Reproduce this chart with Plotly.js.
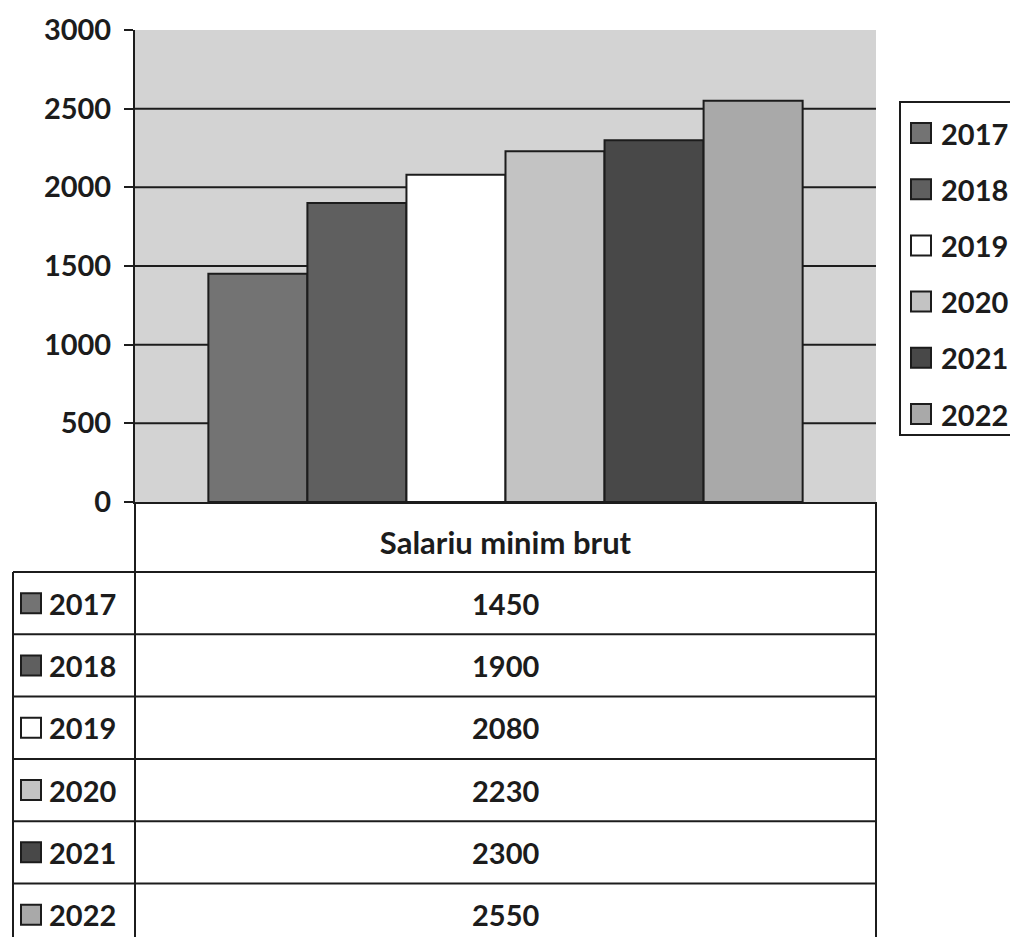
<!DOCTYPE html>
<html>
<head>
<meta charset="utf-8">
<script src="https://cdn.plot.ly/plotly-3.0.1.min.js"></script>
<style>html,body{margin:0;padding:0;background:#fff;}#chart{width:1010px;height:937px;}</style>
</head>
<body>
<div id="chart"></div>
<script>
// ---- data ----
const years = ['2017', '2018', '2019', '2020', '2021', '2022'];
const values = [1450, 1900, 2080, 2230, 2300, 2550];
const category = 'Salariu minim brut';
const colors = ['#737373', '#5f5f5f', '#ffffff', '#c3c3c3', '#484848', '#a9a9a9'];
const yTicks = [0, 500, 1000, 1500, 2000, 2500, 3000];

// ---- geometry helpers (pixel -> paper) ----
const W = 1010, H = 937;
const L = 135, R = 876, T = 30, B = 502;
const px = x => (x - L) / (R - L);
const py = y => (B - y) / (B - T);
const ink = '#1c1c1c';
const FONT = 'Lato, "Open Sans", sans-serif';

const traces = years.map((yr, i) => ({
  type: 'bar',
  x: [category],
  y: [values[i]],
  name: yr,
  marker: {color: colors[i], line: {color: ink, width: 2}},
  showlegend: false,
  hoverinfo: 'none'
}));

const shapes = [];
const annotations = [];

// gridlines (not at top edge)
yTicks.filter(v => v > 0 && v < yTicks[yTicks.length - 1]).forEach(v => {
  shapes.push({type: 'line', xref: 'x domain', yref: 'y', x0: 0, x1: 1, y0: v, y1: v,
    line: {color: ink, width: 2}, layer: 'below'});
});

// data table
const headerBottom = 572, rowH = 62.3, tableLeft = 13;
function hline(y, x0, x1) {
  shapes.push({type: 'line', xref: 'paper', yref: 'paper', x0: px(x0), x1: px(x1), y0: py(y), y1: py(y),
    line: {color: ink, width: 2}});
}
function vline(x, y0, y1) {
  shapes.push({type: 'line', xref: 'paper', yref: 'paper', x0: px(x), x1: px(x), y0: py(y0), y1: py(y1),
    line: {color: ink, width: 2}});
}
vline(L, B, H + 5);
vline(R, B, H + 5);
vline(tableLeft, headerBottom, H + 5);
hline(headerBottom, tableLeft, R);
years.forEach((yr, i) => {
  const top = headerBottom + i * rowH;
  const bot = top + rowH;
  const cy = (top + bot) / 2;
  if (bot < H) hline(bot, tableLeft, R);
  // key square
  shapes.push({type: 'rect', xref: 'paper', yref: 'paper',
    x0: px(21), x1: px(41), y0: py(cy - 10), y1: py(cy + 10),
    fillcolor: colors[i], line: {color: ink, width: 2}});
  annotations.push({xref: 'paper', yref: 'paper', x: px(47), y: py(cy), xanchor: 'left', yanchor: 'middle',
    text: yr, showarrow: false, font: {family: FONT, size: 29, weight: 'bold', color: ink}});
  annotations.push({xref: 'paper', yref: 'paper', x: px((L + R) / 2), y: py(cy), xanchor: 'center', yanchor: 'middle',
    text: String(values[i]), showarrow: false, font: {family: FONT, size: 29, weight: 'bold', color: ink}});
});

// legend (right)
shapes.push({type: 'rect', xref: 'paper', yref: 'paper', x0: px(900), x1: px(1020), y0: py(102), y1: py(435),
  fillcolor: '#ffffff', line: {color: ink, width: 2}});
years.forEach((yr, i) => {
  const cy = 133 + i * 56.2;
  shapes.push({type: 'rect', xref: 'paper', yref: 'paper',
    x0: px(911), x1: px(931), y0: py(cy - 10), y1: py(cy + 10),
    fillcolor: colors[i], line: {color: ink, width: 2}});
  annotations.push({xref: 'paper', yref: 'paper', x: px(939), y: py(cy), xanchor: 'left', yanchor: 'middle',
    text: yr, showarrow: false, font: {family: FONT, size: 29, weight: 'bold', color: ink}});
});

const layout = {
  width: W, height: H,
  margin: {l: L, r: W - R, t: T, b: H - B, pad: 0, autoexpand: false},
  paper_bgcolor: '#ffffff',
  plot_bgcolor: '#d3d3d3',
  barmode: 'group',
  bargap: 0.198,
  bargroupgap: 0,
  showlegend: false,
  xaxis: {
    type: 'category', showgrid: false, zeroline: false,
    showline: true, linecolor: ink, linewidth: 2,
    ticks: '', ticklabelstandoff: 13,
    tickfont: {family: FONT, size: 31, weight: 'bold', color: ink},
    fixedrange: true
  },
  yaxis: {
    range: [0, 3000], tickvals: yTicks, ticktext: yTicks.map(String),
    showgrid: false, zeroline: false,
    showline: true, linecolor: ink, linewidth: 2,
    ticks: 'outside', ticklen: 9, tickwidth: 2, tickcolor: ink,
    ticklabelstandoff: 7,
    tickfont: {family: FONT, size: 29, weight: 'bold', color: ink},
    fixedrange: true
  },
  shapes: shapes,
  annotations: annotations
};

Plotly.newPlot('chart', traces, layout, {displayModeBar: false, staticPlot: true});
</script>
</body>
</html>
